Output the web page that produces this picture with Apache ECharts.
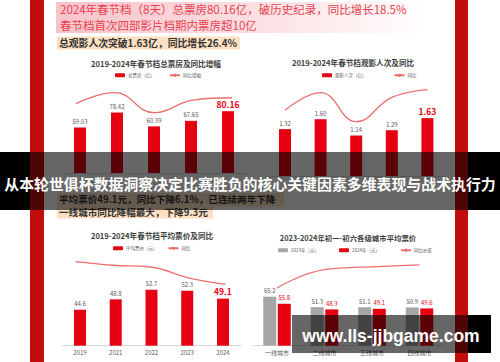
<!DOCTYPE html>
<html><head><meta charset="utf-8">
<script src="https://cdn.jsdelivr.net/npm/echarts@6/dist/echarts.min.js"></script>
<style>html,body{margin:0;padding:0;background:#fff;overflow:hidden}#c{width:500px;height:362px}</style>
</head><body><div id="c"></div>
<script>
// ---- data ----
const years = ['2019', '2021', '2022', '2023', '2024'];
const boxOffice = [59.03, 78.42, 60.39, 67.65, 80.16];
const boxOfficeYoY = [2.3, 32.6, -23.0, 12.0, 18.5];
const admissions = [1.32, 1.60, 1.14, 1.29, 1.63];
const admissionsYoY = [-9.0, 21.2, -28.8, 13.2, 26.4];
const avgPrice = [44.6, 48.8, 52.7, 52.3, 49.1];
const avgPriceYoY = [12.3, 9.4, 8.0, -0.8, -6.1];
const cityTiers = ['一线城市', '二线城市', '三线城市', '四线城市'];
const price2023 = [65.2, 51.3, 51.1, 50.9];
const price2024 = [55.8, 48.3, 49.1, 49.6];
const priceDiff = [-9.3, -3.0, -2.0, -1.3];

const headline1 = '2024年春节档（8天）总票房80.16亿，破历史纪录，同比增长18.5%';
const headline2 = '春节档首次四部影片档期内票房超10亿';
const note1 = '总观影人次突破1.63亿，同比增长26.4%';
const note2a = '平均票价49.1元，同比下降6.1%，已连续两年下降';
const note2b = '一线城市同比降幅最大，下降9.3元';
const title1 = '2019-2024年春节档总票房及同比增幅';
const title2 = '2019-2024年春节档观影人次及同比';
const title3 = '2019-2024年春节档平均票价及同比';
const title4 = '2023-2024年初一-初六各级城市平均票价';
const bannerText = '从本轮世俱杯数据洞察决定比赛胜负的核心关键因素多维表现与战术执行力';
const watermark = 'www.lls-jjbgame.com';

// ---- styles ----
const RED = '#e60012', GRAY = '#a6a6a6', LINE = '#ec6f6f', TXT = '#595959';
const FONT = '"Noto Sans CJK SC", "Noto Sans", sans-serif';
const chart = echarts.init(document.getElementById('c'), null, {renderer: 'svg'});

function catAxis(grid, data, show, labels) {
  return {type: 'category', gridIndex: grid, data: data, show: show !== false,
    axisLine: {lineStyle: {color: '#d9d9d9'}}, axisTick: {show: false},
    axisLabel: {show: labels !== false, color: TXT, fontSize: 6, margin: 4, fontFamily: FONT}};
}
function valAxis(grid, min, max) {
  return {type: 'value', gridIndex: grid, min: min, max: max, show: false, splitLine: {show: false}};
}
function hiBar(arr) {
  return arr.map((v, i) => i === arr.length - 1
    ? {value: v, label: {color: RED, fontWeight: 'bold', fontSize: 8.5}} : v);
}
const barLabel = (fmt) => ({show: true, position: 'top', distance: 3, color: TXT, fontSize: 6, fontFamily: FONT, formatter: fmt});
const pct = p => p.value.toFixed(1) + '%';
function lineSeries(name, x, y, data, fmt) {
  return {type: 'line', name: name, xAxisIndex: x, yAxisIndex: y, data: data, smooth: 0.45,
    symbol: 'none', lineStyle: {color: LINE, width: 1.3}, itemStyle: {color: LINE},
    label: {show: true, position: 'top', distance: 6, color: TXT, fontSize: 6, fontFamily: FONT, formatter: fmt}};
}
const legendBase = {itemWidth: 10, itemHeight: 4, textStyle: {fontSize: 4.5, color: TXT, fontFamily: FONT, padding: [0, 0, 0, -2]}, padding: 0, selectedMode: false};

const option = {
  animation: false,
  backgroundColor: '#fff',
  grid: [
    {left: 61.5, top: 80, width: 185, height: 93},
    {left: 56.5, top: 80, width: 195, height: 93},
    {left: 267.2, top: 80, width: 178, height: 96},
    {left: 62.1, top: 255, width: 178.75, height: 90.7},
    {left: 56.75, top: 255, width: 187.5, height: 90.7},
    {left: 253.25, top: 255, width: 190, height: 90.7}
  ],
  xAxis: [
    catAxis(0, years, true, false), catAxis(1, years, false), catAxis(2, years, true, false),
    catAxis(3, years), catAxis(4, years, false), catAxis(5, cityTiers)
  ],
  yAxis: [
    valAxis(0, 0, 120.6), valAxis(1, -190.6, 67.9),
    valAxis(2, 0, 2.704), valAxis(2, -122.4, 43.1),
    valAxis(3, 30, 66.8), valAxis(4, -56.0, 17.75),
    valAxis(5, 0, 120.7), valAxis(5, -29.2, 2.08)
  ],
  legend: [
    Object.assign({left: 115, top: 73, itemGap: 14, data: ['总票房（亿）', '同比增幅']}, legendBase),
    Object.assign({left: 322, top: 73, itemGap: 27, data: ['观影人次（亿）', '同比']}, legendBase),
    Object.assign({left: 113, top: 246, itemGap: 10, data: ['平均票价（元）', {name: '同比 '}]}, legendBase),
    Object.assign({left: 278, top: 248, itemGap: 20, data: ['2023年（元）', '2024年（元）', '同比价差']}, legendBase)
  ],
  series: [
    {type: 'bar', name: '总票房（亿）', xAxisIndex: 0, yAxisIndex: 0, barWidth: 12, data: hiBar(boxOffice),
      itemStyle: {color: RED}, label: barLabel(p => p.value.toFixed(2))},
    lineSeries('同比增幅', 1, 1, boxOfficeYoY, pct),
    {type: 'bar', name: '观影人次（亿）', xAxisIndex: 2, yAxisIndex: 2, barWidth: 12, data: hiBar(admissions),
      itemStyle: {color: RED}, label: barLabel(p => p.value.toFixed(2))},
    lineSeries('同比', 2, 3, admissionsYoY, pct),
    {type: 'bar', name: '平均票价（元）', xAxisIndex: 3, yAxisIndex: 4, barWidth: 12, data: hiBar(avgPrice),
      itemStyle: {color: RED}, label: barLabel(p => p.value.toFixed(1))},
    lineSeries('同比 ', 4, 5, avgPriceYoY, pct),
    {type: 'bar', name: '2023年（元）', xAxisIndex: 5, yAxisIndex: 6, barWidth: 13, barGap: '12%', data: price2023,
      itemStyle: {color: GRAY}, label: barLabel(p => p.value.toFixed(1))},
    {type: 'bar', name: '2024年（元）', xAxisIndex: 5, yAxisIndex: 6, barWidth: 13, barGap: '12%', data: price2024,
      itemStyle: {color: RED}, label: Object.assign(barLabel(p => p.value.toFixed(1)), {color: RED})},
    lineSeries('同比价差', 5, 7,
      priceDiff.map((v, i) => i === 0 ? {value: v, label: {color: RED, fontWeight: 'bold', fontSize: 7}} : v),
      p => p.value.toFixed(1))
  ],
  graphic: [
    // decorative red strips
    {type: 'rect', z: 0, shape: {x: 30, y: 0, width: 14, height: 362}, style: {fill: '#c30d0d'}},
    {type: 'rect', z: 0, shape: {x: 455, y: 0, width: 13, height: 362}, style: {fill: '#c30d0d'}},
    // headline box
    {type: 'rect', z: 0, shape: {x: 56, y: 2, width: 372, height: 31},
      style: {fill: new echarts.graphic.LinearGradient(0, 0, 1, 0, [{offset: 0, color: '#f8c3ca'}, {offset: 0.6, color: '#fde3e6'}, {offset: 1, color: '#ffffff'}])}},
    {type: 'text', z: 1, style: {x: 60, y: 9.3, text: headline1, fill: '#e8414f', font: '11.5px ' + FONT, textVerticalAlign: 'middle'}},
    {type: 'text', z: 1, style: {x: 60, y: 24.5, text: headline2, fill: '#e8414f', font: '11.5px ' + FONT, textVerticalAlign: 'middle'}},
    {type: 'rect', z: 0, shape: {x: 57, y: 36.5, width: 183, height: 13}, style: {fill: '#fde0c2'}},
    {type: 'text', z: 1, style: {x: 59, y: 43, text: note1, fill: '#333', font: 'bold 9.8px ' + FONT, textVerticalAlign: 'middle'}},
    {type: 'rect', z: 0, shape: {x: 57, y: 193, width: 227, height: 13.5}, style: {fill: '#fde0c2'}},
    {type: 'rect', z: 0, shape: {x: 57, y: 206.5, width: 156, height: 12}, style: {fill: '#fde0c2'}},
    {type: 'text', z: 1, style: {x: 59, y: 199.3, text: note2a, fill: '#333', font: 'bold 9.6px ' + FONT, textVerticalAlign: 'middle'}},
    {type: 'text', z: 1, style: {x: 59, y: 212.2, text: note2b, fill: '#333', font: 'bold 9.6px ' + FONT, textVerticalAlign: 'middle'}},
    // chart titles
    {type: 'text', z: 1, style: {x: 156, y: 63, text: title1, fill: '#404040', font: 'bold 7.6px ' + FONT, textAlign: 'center', textVerticalAlign: 'middle'}},
    {type: 'text', z: 1, style: {x: 353, y: 62, text: title2, fill: '#404040', font: 'bold 7.6px ' + FONT, textAlign: 'center', textVerticalAlign: 'middle'}},
    {type: 'text', z: 1, style: {x: 152, y: 235, text: title3, fill: '#404040', font: 'bold 7.6px ' + FONT, textAlign: 'center', textVerticalAlign: 'middle'}},
    {type: 'text', z: 1, style: {x: 348, y: 237, text: title4, fill: '#404040', font: 'bold 7.4px ' + FONT, textAlign: 'center', textVerticalAlign: 'middle'}},
    // banner overlay
    {type: 'rect', z: 100, shape: {x: 0, y: 152, width: 30, height: 58}, style: {fill: '#000'}},
    {type: 'rect', z: 100, shape: {x: 30, y: 152, width: 438, height: 58}, style: {fill: 'rgba(0,0,0,0.6)'}},
    {type: 'rect', z: 100, shape: {x: 468, y: 152, width: 32, height: 58}, style: {fill: '#000'}},
    {type: 'text', z: 101, style: {x: 250, y: 183, text: bannerText, fill: '#fff', font: 'bold 14.9px ' + FONT, textAlign: 'center', textVerticalAlign: 'middle'}},
    // watermark
    {type: 'rect', z: 100, shape: {x: 292, y: 315, width: 176, height: 38}, style: {fill: 'rgba(0,0,0,0.6)'}},
    {type: 'rect', z: 100, shape: {x: 468, y: 315, width: 23, height: 38}, style: {fill: '#000'}},
    {type: 'text', z: 101, style: {x: 391, y: 336, text: watermark, fill: '#fff', font: 'bold 17.5px "Liberation Sans", Arial, sans-serif', textAlign: 'center', textVerticalAlign: 'middle'}}
  ]
};
chart.setOption(option);
</script>
</body></html>
